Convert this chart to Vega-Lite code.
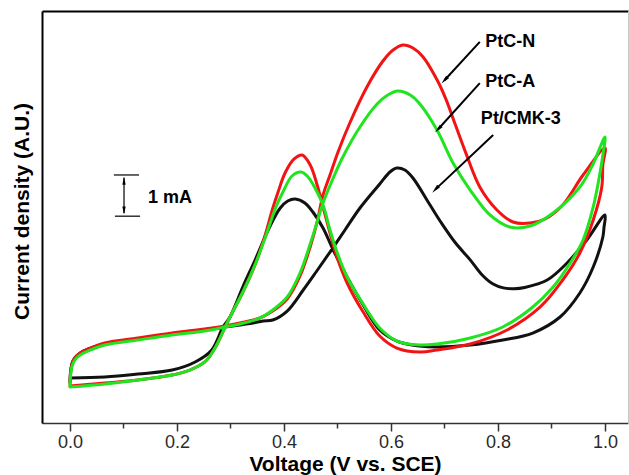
{
  "$schema": "https://vega.github.io/schema/vega-lite/v6.json",
  "width": 586,
  "height": 412,
  "autosize": {"type": "none"},
  "padding": {"left": 42, "top": 11, "right": 1, "bottom": 52},
  "background": "white",
  "config": {
    "view": {"stroke": null},
    "font": "Liberation Sans"
  },
  "datasets": {
    "pt": [
      {"i":1,"v":0,"j":0.995},{"i":2,"v":0.001,"j":1.238},{"i":3,"v":0.004,"j":1.456},{"i":4,"v":0.009,"j":1.578},{"i":5,"v":0.019,"j":1.699},{"i":6,"v":0.034,"j":1.796},{"i":7,"v":0.065,"j":1.917},{"i":8,"v":0.127,"j":2.039},{"i":9,"v":0.191,"j":2.16},{"i":10,"v":0.252,"j":2.257},{"i":11,"v":0.29,"j":2.33},{"i":12,"v":0.318,"j":2.379},{"i":13,"v":0.342,"j":2.427},{"i":14,"v":0.361,"j":2.476},{"i":15,"v":0.379,"j":2.5},{"i":16,"v":0.406,"j":2.718},{"i":17,"v":0.436,"j":3.228},{"i":18,"v":0.46,"j":3.665},{"i":19,"v":0.486,"j":4.15},{"i":20,"v":0.514,"j":4.684},{"i":21,"v":0.542,"j":5.218},{"i":22,"v":0.579,"j":5.801},{"i":23,"v":0.598,"j":6.092},{"i":24,"v":0.611,"j":6.189},{"i":25,"v":0.626,"j":6.141},{"i":26,"v":0.641,"j":5.947},{"i":27,"v":0.673,"j":5.291},{"i":28,"v":0.694,"j":4.86},{"i":29,"v":0.72,"j":4.38},{"i":30,"v":0.748,"j":3.96},{"i":31,"v":0.77,"j":3.6},{"i":32,"v":0.79,"j":3.38},{"i":33,"v":0.81,"j":3.28},{"i":34,"v":0.83,"j":3.26},{"i":35,"v":0.85,"j":3.29},{"i":36,"v":0.892,"j":3.471},{"i":37,"v":0.929,"j":3.883},{"i":38,"v":0.966,"j":4.442},{"i":39,"v":1.0,"j":5.049},
      {"i":40,"v":0.998,"j":4.733},{"i":41,"v":0.996,"j":4.515},{"i":42,"v":0.978,"j":3.786},{"i":43,"v":0.953,"j":3.155},{"i":44,"v":0.916,"j":2.573},{"i":45,"v":0.865,"j":2.184},{"i":46,"v":0.809,"j":2.015},{"i":47,"v":0.748,"j":1.893},{"i":48,"v":0.686,"j":1.845},{"i":49,"v":0.654,"j":1.869},{"i":50,"v":0.611,"j":1.99},{"i":51,"v":0.579,"j":2.257},{"i":52,"v":0.548,"j":2.864},{"i":53,"v":0.518,"j":3.544},{"i":54,"v":0.492,"j":4.199},{"i":55,"v":0.473,"j":4.733},{"i":56,"v":0.454,"j":5.121},{"i":57,"v":0.439,"j":5.34},{"i":58,"v":0.421,"j":5.437},{"i":59,"v":0.407,"j":5.388},{"i":60,"v":0.393,"j":5.218},{"i":61,"v":0.374,"j":4.782},{"i":62,"v":0.346,"j":3.956},{"i":63,"v":0.323,"j":3.301},{"i":64,"v":0.299,"j":2.573},{"i":65,"v":0.286,"j":2.33},{"i":66,"v":0.265,"j":1.772},{"i":67,"v":0.234,"j":1.481},{"i":68,"v":0.191,"j":1.286},{"i":69,"v":0.127,"j":1.189},{"i":70,"v":0.065,"j":1.117},{"i":71,"v":0,"j":1.092}
    ],
    "ptcn": [
      {"i":1,"v":0,"j":0.947},{"i":2,"v":0.001,"j":1.189},{"i":3,"v":0.004,"j":1.432},{"i":4,"v":0.009,"j":1.578},{"i":5,"v":0.019,"j":1.699},{"i":6,"v":0.034,"j":1.796},{"i":7,"v":0.065,"j":1.942},{"i":8,"v":0.127,"j":2.063},{"i":9,"v":0.191,"j":2.184},{"i":10,"v":0.252,"j":2.282},{"i":11,"v":0.29,"j":2.354},{"i":12,"v":0.318,"j":2.427},{"i":13,"v":0.355,"j":2.549},{"i":14,"v":0.379,"j":2.718},{"i":15,"v":0.406,"j":3.01},{"i":16,"v":0.43,"j":3.568},{"i":17,"v":0.449,"j":4.272},{"i":18,"v":0.462,"j":4.879},{"i":19,"v":0.473,"j":5.534},{"i":20,"v":0.486,"j":6.019},{"i":21,"v":0.501,"j":6.578},{"i":22,"v":0.523,"j":7.282},{"i":23,"v":0.555,"j":8.155},{"i":24,"v":0.585,"j":8.786},{"i":25,"v":0.604,"j":9.053},{"i":26,"v":0.622,"j":9.175},{"i":27,"v":0.641,"j":9.102},{"i":28,"v":0.66,"j":8.883},{"i":29,"v":0.686,"j":8.33},{"i":30,"v":0.703,"j":7.85},{"i":31,"v":0.72,"j":7.25},{"i":32,"v":0.74,"j":6.55},{"i":33,"v":0.766,"j":5.728},{"i":34,"v":0.798,"j":5.17},{"i":35,"v":0.828,"j":4.879},{"i":36,"v":0.86,"j":4.854},{"i":37,"v":0.888,"j":4.951},{"i":38,"v":0.921,"j":5.291},{"i":39,"v":0.959,"j":6.019},{"i":40,"v":1.0,"j":6.675},
      {"i":41,"v":0.996,"j":6.262},{"i":42,"v":0.994,"j":5.728},{"i":43,"v":0.978,"j":4.927},{"i":44,"v":0.953,"j":4.126},{"i":45,"v":0.921,"j":3.471},{"i":46,"v":0.879,"j":2.816},{"i":47,"v":0.817,"j":2.257},{"i":48,"v":0.748,"j":1.917},{"i":49,"v":0.686,"j":1.772},{"i":50,"v":0.654,"j":1.723},{"i":51,"v":0.611,"j":1.82},{"i":52,"v":0.579,"j":2.112},{"i":53,"v":0.548,"j":2.694},{"i":54,"v":0.518,"j":3.398},{"i":55,"v":0.499,"j":4.029},{"i":56,"v":0.486,"j":4.612},{"i":57,"v":0.473,"j":5.243},{"i":58,"v":0.462,"j":5.777},{"i":59,"v":0.449,"j":6.262},{"i":60,"v":0.434,"j":6.505},{"i":61,"v":0.419,"j":6.408},{"i":62,"v":0.402,"j":6.068},{"i":63,"v":0.389,"j":5.607},{"i":64,"v":0.378,"j":5.17},{"i":65,"v":0.366,"j":4.612},{"i":66,"v":0.348,"j":3.908},{"i":67,"v":0.325,"j":3.228},{"i":68,"v":0.303,"j":2.67},{"i":69,"v":0.29,"j":2.33},{"i":70,"v":0.271,"j":1.82},{"i":71,"v":0.252,"j":1.481},{"i":72,"v":0.224,"j":1.286},{"i":73,"v":0.191,"j":1.165},{"i":74,"v":0.127,"j":1.044},{"i":75,"v":0.065,"j":0.971},{"i":76,"v":0,"j":0.898}
    ],
    "ptca": [
      {"i":1,"v":0,"j":0.898},{"i":2,"v":0.001,"j":1.141},{"i":3,"v":0.004,"j":1.383},{"i":4,"v":0.009,"j":1.529},{"i":5,"v":0.019,"j":1.65},{"i":6,"v":0.034,"j":1.748},{"i":7,"v":0.065,"j":1.893},{"i":8,"v":0.127,"j":2.015},{"i":9,"v":0.191,"j":2.136},{"i":10,"v":0.252,"j":2.233},{"i":11,"v":0.29,"j":2.33},{"i":12,"v":0.318,"j":2.403},{"i":13,"v":0.355,"j":2.549},{"i":14,"v":0.379,"j":2.743},{"i":15,"v":0.406,"j":3.058},{"i":16,"v":0.43,"j":3.641},{"i":17,"v":0.449,"j":4.345},{"i":18,"v":0.462,"j":4.879},{"i":19,"v":0.473,"j":5.34},{"i":20,"v":0.492,"j":5.947},{"i":21,"v":0.51,"j":6.456},{"i":22,"v":0.542,"j":7.184},{"i":23,"v":0.574,"j":7.743},{"i":24,"v":0.594,"j":7.961},{"i":25,"v":0.613,"j":8.058},{"i":26,"v":0.636,"j":7.961},{"i":27,"v":0.654,"j":7.743},{"i":28,"v":0.686,"j":7.112},{"i":29,"v":0.716,"j":6.311},{"i":30,"v":0.748,"j":5.655},{"i":31,"v":0.785,"j":5.049},{"i":32,"v":0.822,"j":4.757},{"i":33,"v":0.86,"j":4.782},{"i":34,"v":0.903,"j":5.097},{"i":35,"v":0.953,"j":5.728},{"i":36,"v":0.976,"j":6.238},{"i":37,"v":1.0,"j":6.942},
      {"i":38,"v":0.996,"j":6.505},{"i":39,"v":0.991,"j":6.092},{"i":40,"v":0.978,"j":5.243},{"i":41,"v":0.959,"j":4.442},{"i":42,"v":0.935,"j":3.883},{"i":43,"v":0.903,"j":3.301},{"i":44,"v":0.865,"j":2.816},{"i":45,"v":0.809,"j":2.33},{"i":46,"v":0.748,"j":2.063},{"i":47,"v":0.686,"j":1.917},{"i":48,"v":0.654,"j":1.893},{"i":49,"v":0.611,"j":1.99},{"i":50,"v":0.579,"j":2.306},{"i":51,"v":0.548,"j":2.888},{"i":52,"v":0.518,"j":3.544},{"i":53,"v":0.499,"j":4.15},{"i":54,"v":0.486,"j":4.684},{"i":55,"v":0.473,"j":5.291},{"i":56,"v":0.458,"j":5.704},{"i":57,"v":0.445,"j":5.971},{"i":58,"v":0.432,"j":6.092},{"i":59,"v":0.415,"j":5.995},{"i":60,"v":0.398,"j":5.607},{"i":61,"v":0.385,"j":5.243},{"i":62,"v":0.368,"j":4.612},{"i":63,"v":0.348,"j":3.908},{"i":64,"v":0.325,"j":3.228},{"i":65,"v":0.303,"j":2.67},{"i":66,"v":0.29,"j":2.33},{"i":67,"v":0.271,"j":1.82},{"i":68,"v":0.252,"j":1.481},{"i":69,"v":0.224,"j":1.286},{"i":70,"v":0.191,"j":1.165},{"i":71,"v":0.127,"j":1.044},{"i":72,"v":0.065,"j":0.947},{"i":73,"v":0,"j":0.874}
    ],
    "scalebar": [
      {"v":0.082,"j":6.02,"v2":0.129,"j2":6.02},
      {"v":0.084,"j":5.02,"v2":0.131,"j2":5.02},
      {"v":0.101,"j":5.1,"v2":0.101,"j2":5.95}
    ],
    "barUp": [{"v":0.101,"j":5.88}],
    "barDown": [{"v":0.101,"j":5.16}],
    "arrows": [
      {"v":0.766,"j":9.25,"v2":0.700,"j2":8.32},
      {"v":0.766,"j":8.25,"v2":0.688,"j2":7.13},
      {"v":0.791,"j":6.99,"v2":0.683,"j2":5.67}
    ],
    "heads": [
      {"v":0.700,"j":8.32},
      {"v":0.688,"j":7.13},
      {"v":0.683,"j":5.67}
    ],
    "labels": [
      {"v":0.776,"j":9.25,"t":"PtC-N"},
      {"v":0.776,"j":8.28,"t":"PtC-A"},
      {"v":0.768,"j":7.38,"t":"Pt/CMK-3"},
      {"v":0.146,"j":5.46,"t":"1 mA"}
    ]
  },
  "layer": [
    {
      "data": {"name": "pt"},
      "mark": {"type": "line", "interpolate": "catmull-rom", "color": "#111111", "strokeWidth": 3, "strokeJoin": "round", "strokeCap": "round"},
      "encoding": {
        "x": {
          "field": "v", "type": "quantitative",
          "scale": {"domain": [-0.0523, 1.043], "nice": false, "zero": false},
          "axis": {
            "orient": "bottom",
            "values": [0, 0.1, 0.2, 0.3, 0.4, 0.5, 0.6, 0.7, 0.8, 0.9, 1.0],
            "labelExpr": "round(datum.value*10)%2==0 ? format(datum.value, '.1f') : ''",
            "tickSize": {"condition": {"test": "round(datum.value*10)%2==0", "value": 8}, "value": 5},
            "tickColor": "#333333", "tickWidth": 1.5,
            "domainColor": "#333333", "domainWidth": 1.5,
            "grid": false, "labelFlush": false,
            "labelFont": "Liberation Sans", "labelFontSize": 18, "labelColor": "#2a2a2a", "labelPadding": 2,
            "title": "Voltage (V vs. SCE)",
            "titleFont": "Liberation Sans", "titleFontSize": 21, "titleFontWeight": "bold", "titleColor": "#000000",
            "titleX": 303, "titleY": 47.5, "titleAlign": "center", "titleBaseline": "alphabetic"
          }
        },
        "y": {
          "field": "j", "type": "quantitative",
          "scale": {"domain": [0, 10], "nice": false, "zero": false},
          "axis": {
            "orient": "left",
            "values": [5],
            "ticks": true, "tickSize": 0, "tickOpacity": 0,
            "labels": true, "labelExpr": "''",
            "grid": false,
            "domain": true, "domainColor": "#000000", "domainWidth": 2,
            "title": "Current density (A.U.)",
            "titleFont": "Liberation Sans", "titleFontSize": 21, "titleFontWeight": "bold", "titleColor": "#000000",
            "titleX": -13.5, "titleY": 200, "titleAngle": 270, "titleAlign": "center", "titleBaseline": "alphabetic"
          }
        },
        "order": {"field": "i", "type": "quantitative"}
      }
    },
    {
      "data": {"name": "ptcn"},
      "mark": {"type": "line", "interpolate": "catmull-rom", "color": "#f21414", "strokeWidth": 3, "strokeJoin": "round", "strokeCap": "round"},
      "encoding": {
        "x": {"field": "v", "type": "quantitative", "axis": null},
        "y": {"field": "j", "type": "quantitative", "axis": null},
        "order": {"field": "i", "type": "quantitative"}
      }
    },
    {
      "data": {"name": "ptca"},
      "mark": {"type": "line", "interpolate": "catmull-rom", "color": "#1fe41f", "strokeWidth": 3, "strokeJoin": "round", "strokeCap": "round"},
      "encoding": {
        "x": {"field": "v", "type": "quantitative", "axis": null},
        "y": {"field": "j", "type": "quantitative", "axis": null},
        "order": {"field": "i", "type": "quantitative"}
      }
    },
    {
      "data": {"name": "scalebar"},
      "mark": {"type": "rule", "color": "#000000", "strokeWidth": 1.2},
      "encoding": {
        "x": {"field": "v", "type": "quantitative", "axis": null},
        "y": {"field": "j", "type": "quantitative", "axis": null},
        "x2": {"field": "v2"},
        "y2": {"field": "j2"}
      }
    },
    {
      "data": {"name": "arrows"},
      "mark": {"type": "rule", "color": "#000000", "strokeWidth": 2},
      "encoding": {
        "x": {"field": "v", "type": "quantitative", "axis": null},
        "y": {"field": "j", "type": "quantitative", "axis": null},
        "x2": {"field": "v2"},
        "y2": {"field": "j2"}
      }
    },
    {
      "data": {"name": "barUp"},
      "mark": {"type": "point", "shape": "M0,-1L0.42,1L-0.42,1Z", "filled": true, "color": "#000000", "size": 64, "opacity": 1, "strokeWidth": 0},
      "encoding": {
        "x": {"field": "v", "type": "quantitative", "axis": null},
        "y": {"field": "j", "type": "quantitative", "axis": null}
      }
    },
    {
      "data": {"name": "barDown"},
      "mark": {"type": "point", "shape": "M0,-1L0.42,1L-0.42,1Z", "angle": 180, "filled": true, "color": "#000000", "size": 64, "opacity": 1, "strokeWidth": 0},
      "encoding": {
        "x": {"field": "v", "type": "quantitative", "axis": null},
        "y": {"field": "j", "type": "quantitative", "axis": null}
      }
    },
    {
      "data": {"name": "heads"},
      "mark": {"type": "point", "shape": "M0,-1L0.42,1L-0.42,1Z", "angle": 224, "filled": true, "color": "#000000", "size": 81, "opacity": 1, "strokeWidth": 0},
      "encoding": {
        "x": {"field": "v", "type": "quantitative", "axis": null},
        "y": {"field": "j", "type": "quantitative", "axis": null}
      }
    },
    {
      "data": {"name": "labels"},
      "mark": {"type": "text", "align": "left", "baseline": "middle", "font": "Liberation Sans", "fontSize": 18, "fontWeight": "bold", "color": "#000000"},
      "encoding": {
        "x": {
          "field": "v", "type": "quantitative",
          "axis": {"orient": "top", "values": [0.5], "ticks": true, "tickSize": 0, "tickOpacity": 0, "labels": true, "labelExpr": "''", "grid": false, "title": null, "domain": true, "domainColor": "#000000", "domainWidth": 2}
        },
        "y": {
          "field": "j", "type": "quantitative",
          "axis": {"orient": "right", "values": [5], "ticks": true, "tickSize": 0, "tickOpacity": 0, "labels": true, "labelExpr": "''", "grid": false, "title": null, "domain": true, "domainColor": "#c8c8c8", "domainWidth": 1}
        },
        "text": {"field": "t", "type": "nominal"}
      }
    }
  ]
}
